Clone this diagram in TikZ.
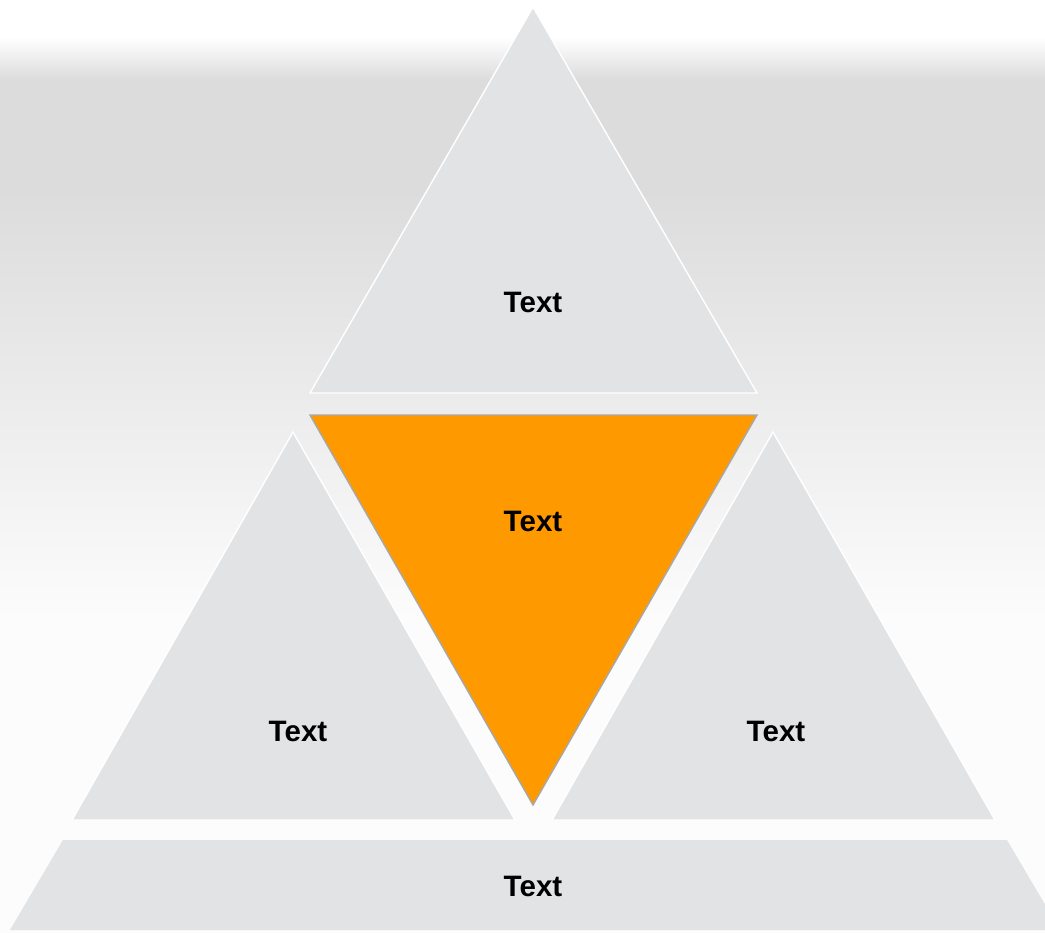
\documentclass[tikz,border=0pt]{standalone}
\usepackage{fontspec}
\setmainfont{Liberation Sans}
\usepackage{xcolor}
\definecolor{panelgray}{RGB}{226,227,229}
\definecolor{bandgray}{RGB}{220,220,220}
\definecolor{paleback}{RGB}{252,252,252}
\definecolor{amber}{RGB}{255,153,0}
\definecolor{amberedge}{RGB}{168,168,168}
\usepackage{tikz}
\usetikzlibrary{positioning}

\begin{document}
\begin{tikzpicture}[x=0.025cm, y=-0.025cm,
  panel/.style={fill=panelgray, draw=white, line width=1pt, line join=miter},
  hotpanel/.style={fill=amber, draw=amberedge, line width=1pt},
  tritext/.style={font=\fontsize{21}{25}\selectfont\bfseries, text=black, inner sep=0pt}]

% Canvas (clip also fixes the page size)
\clip (0,0) rectangle (1045,933);

% Background bands: white top, grey band, fading back to white
\fill[white] (0,0) rectangle (1045,37);
\shade[top color=white, bottom color=bandgray] (0,37) rectangle (1045,80);
\fill[bandgray] (0,80) rectangle (1045,190);
\shade[top color=bandgray, bottom color=paleback] (0,190) rectangle (1045,620);
\fill[paleback] (0,620) rectangle (1045,933);

% Top triangle
\coordinate (topA) at (533,7);
\coordinate (topL) at (310,393);
\coordinate (topR) at (757,393);
\draw[panel] (topA) -- (topL) -- (topR) -- cycle;

% Inverted centre triangle (highlighted)
\coordinate (midL) at (310,415);
\coordinate (midR) at (757,415);
\coordinate (midB) at (533,805);
\draw[hotpanel] (midL) -- (midR) -- (midB) -- cycle;

% Left and right triangles
\coordinate (leftA) at (293,432);
\coordinate (leftL) at (72,820);
\coordinate (leftR) at (515,820);
\draw[panel] (leftA) -- (leftL) -- (leftR) -- cycle;

\coordinate (rightA) at (773,432);
\coordinate (rightL) at (552,820);
\coordinate (rightR) at (995,820);
\draw[panel] (rightA) -- (rightL) -- (rightR) -- cycle;

% Base trapezoid
\coordinate (baseTL) at (63,840);
\coordinate (baseTR) at (1007,840);
\coordinate (baseBR) at (1060,930);
\coordinate (baseBL) at (10,930);
\fill[panelgray] (baseTL) -- (baseTR) -- (baseBR) -- (baseBL) -- cycle;

% Labels
\node[tritext] (toptext) at (533,302) {Text};
\node[tritext] (midtext) at (533,521) {Text};
\node[tritext] (lefttext) at (298,731) {Text};
\node[tritext] (righttext) at (776,731) {Text};
\node[tritext] (basetext) at (533,886) {Text};

\end{tikzpicture}
\end{document}
